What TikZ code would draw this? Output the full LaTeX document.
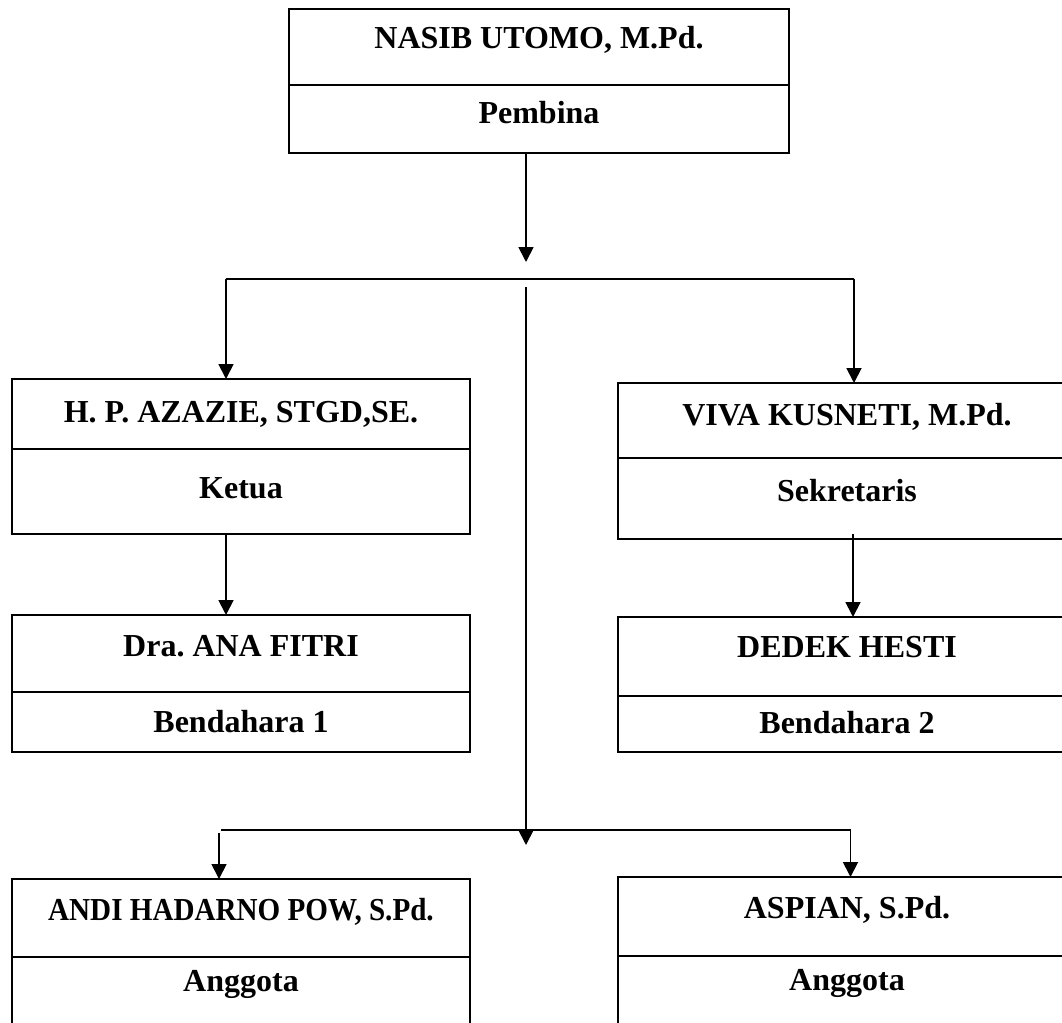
\documentclass[tikz,border=0pt]{standalone}
\usepackage{fontspec}
\setmainfont{Liberation Serif}
\usetikzlibrary{arrows.meta}
\frenchspacing
\begin{document}
\begin{tikzpicture}[x=1pt,y=-1pt,
  sect/.style={draw=black, line width=1.8pt, rectangle, inner sep=0pt, outer sep=0pt, fill=white},
  lbl/.style={anchor=base, inner sep=0pt, font=\fontsize{32}{38}\selectfont\bfseries},
  conn/.style={line width=1.8pt},
  arr/.style={line width=1.8pt, -{Triangle[width=15pt,length=15pt]}}]
\useasboundingbox (0,0) rectangle (1062,1022);
\clip (0,0) rectangle (1062,1022);
\fill[white] (0,0) rectangle (1062,1022);
% boxes
\node[sect, minimum width=500pt, minimum height=76pt] (nasib) at (539,47) {};
\node[sect, minimum width=500pt, minimum height=68pt] (pembina) at (539,119) {};
\node[sect, minimum width=458pt, minimum height=70pt] (azazie) at (241,414) {};
\node[sect, minimum width=458pt, minimum height=85pt] (ketua) at (241,491.5) {};
\node[sect, minimum width=458pt, minimum height=77pt] (ana) at (241,653.5) {};
\node[sect, minimum width=458pt, minimum height=60pt] (bend1) at (241,722) {};
\node[sect, minimum width=458pt, minimum height=75pt] (viva) at (847,420.5) {};
\node[sect, minimum width=458pt, minimum height=81pt] (sek) at (847,498.5) {};
\node[sect, minimum width=458pt, minimum height=79pt] (dedek) at (847,656.5) {};
\node[sect, minimum width=458pt, minimum height=56pt] (bend2) at (847,724) {};
\node[sect, minimum width=458pt, minimum height=78pt] (andi) at (241,918) {};
\node[sect, minimum width=458pt, minimum height=74pt] (ang1) at (241,994) {};
\node[sect, minimum width=458pt, minimum height=79pt] (aspian) at (847,916.5) {};
\node[sect, minimum width=458pt, minimum height=75pt] (ang2) at (847,993.5) {};
% texts
\node[lbl] (tnasib) at (539,49) {NASIB UTOMO, M.Pd.};
\node[lbl] (tpembina) at (539,124) {Pembina};
\node[lbl] (tazazie) at (241,422) {H. P. AZAZIE, STGD,SE.};
\node[lbl] (tketua) at (241,498) {Ketua};
\node[lbl] (tana) at (241,656) {Dra. ANA FITRI};
\node[lbl] (tbend1) at (241,732) {Bendahara 1};
\node[lbl] (tviva) at (847,425.5) {VIVA KUSNETI, M.Pd.};
\node[lbl] (tsek) at (847,501.5) {Sekretaris};
\node[lbl] (tdedek) at (847,657) {DEDEK HESTI};
\node[lbl] (tbend2) at (847,733) {Bendahara 2};
\node[lbl] (tandi) at (241,920) {\scalebox{0.91}[1]{ANDI HADARNO POW, S.Pd.}};
\node[lbl] (tang1) at (241,991) {Anggota};
\node[lbl] (taspian) at (847,918) {ASPIAN, S.Pd.};
\node[lbl] (tang2) at (847,990) {Anggota};
% connector points
\coordinate (j1) at (526,262);
\coordinate (hl) at (226,279);
\coordinate (hr) at (854,279);
\coordinate (c1) at (526,287);
\coordinate (c2) at (526,845);
\coordinate (ll) at (221,830);
\coordinate (lr) at (850.5,830);
\coordinate (la) at (219,833);
% connectors
\draw[arr] (j1 |- pembina.south) -- (j1);
\draw[conn] (hl) -- (hr);
\draw[arr] (hl) -- (hl |- azazie.north);
\draw[arr] (hr) -- (hr |- viva.north);
\draw[arr] (hl |- ketua.south) -- (hl |- ana.north);
\draw[arr] (853,534) -- (853,617);
\draw[arr] (c1) -- (c2);
\draw[conn] (ll) -- (lr);
\draw[arr] (la) -- (la |- andi.north);
\draw[arr] (lr) -- (lr |- aspian.north);
\end{tikzpicture}
\end{document}
